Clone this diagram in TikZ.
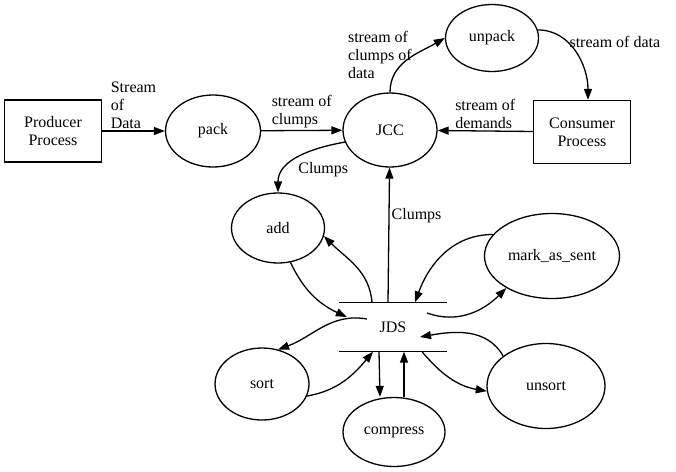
\documentclass[tikz,border=0pt]{standalone}
\usepackage{fontspec}
\setmainfont{Liberation Serif}
\usetikzlibrary{positioning,shapes,arrows.meta}

\begin{document}
\begin{tikzpicture}[x=1pt, y=1pt, line width=1.3pt, >={Triangle[length=11pt,width=8pt]},
  font=\fontsize{16}{18}\selectfont, align=center,
  main/.style = {draw, ellipse, inner sep=0pt},
  box/.style = {draw, rectangle, inner sep=0pt},
  lbl/.style = {align=left, inner sep=2pt},
  store/.style = {line width=1.6pt}]
  \useasboundingbox (0,0) rectangle (676,-471);

  \node[box, minimum width=97pt, minimum height=62pt] (prod) at (53,-131) {Producer\\Process};
  \node[main, minimum width=95pt, minimum height=72pt] (pack) at (213,-131) {pack};
  \node[main, minimum width=94pt, minimum height=74pt] (jcc) at (390,-130) {JCC};
  \node[main, minimum width=93pt, minimum height=67pt] (unpack) at (492,-38) {unpack};
  \node[box, minimum width=97pt, minimum height=63pt] (cons) at (582,-132) {Consumer\\Process};
  \node[main, minimum width=93pt, minimum height=70pt] (add) at (278,-228) {add};
  \node[main, minimum width=135pt, minimum height=85pt] (mark) at (552,-256) {mark\_as\_sent};
  \node[minimum width=107pt, minimum height=48pt, inner sep=0pt] (jds) at (393,-327) {JDS};
  \node[main, minimum width=94pt, minimum height=72pt] (sort) at (262,-384) {sort};
  \node[main, minimum width=102pt, minimum height=69pt] (comp) at (394,-432) {compress};
  \node[main, minimum width=118pt, minimum height=85pt] (unsort) at (546,-386) {unsort};

  \draw[store] (jds.north west) -- (jds.north east) (jds.south west) -- (jds.south east);

  \draw[->] (prod) to node[above, lbl]{Stream\\of\\Data} (pack);
  \draw[->] (pack) to node[above, lbl]{stream of\\clumps} (jcc);
  \draw[->] (cons) to node[above, lbl]{stream of\\demands} (jcc);
  \draw[->] (jcc.north) to[out=90, in=210] node[pos=.6, left, lbl]{stream of\\clumps of\\data} (unpack.west);
  \draw[->] (unpack.10) to[out=0, in=90] node[pos=.35, right, lbl]{stream of data} ([xshift=6pt]cons.north);
  \draw[->] (jcc.195) to[out=190, in=90] node[pos=.55, below right, lbl]{Clumps} (add.north);
  \draw[->] ([xshift=-5pt]jds.north) to node[pos=.64, right, lbl]{Clumps} (jcc);

  \draw[->] (add.290) to[out=-65, in=155] ([shift={(8pt,10pt)}]jds.west);
  \draw[->] ([xshift=-21pt]jds.north) to[out=95, in=-45] (add.350);
  \draw[->] (mark.160) to[out=180, in=70] ([xshift=22pt]jds.north);
  \draw[->] ([shift={(-20pt,14pt)}]jds.east) to[out=-20, in=225] (mark.215);
  \draw[->] ([shift={(-26pt,8pt)}]jds.center) to[out=170, in=20] (sort.65);
  \draw[->] (sort.345) to[out=10, in=230] ([xshift=-20pt]jds.south);
  \draw[->] ([xshift=-14pt]jds.south) to ([xshift=-14pt]comp.north);
  \draw[->] ([xshift=10pt]comp.north) to ([xshift=11pt]jds.south);
  \draw[->] ([xshift=29pt]jds.south) to[out=-50, in=170] (unsort.185);
  \draw[->] (unsort.145) to[out=120, in=10] ([shift={(27pt,-10pt)}]jds.center);
\end{tikzpicture}
\end{document}
